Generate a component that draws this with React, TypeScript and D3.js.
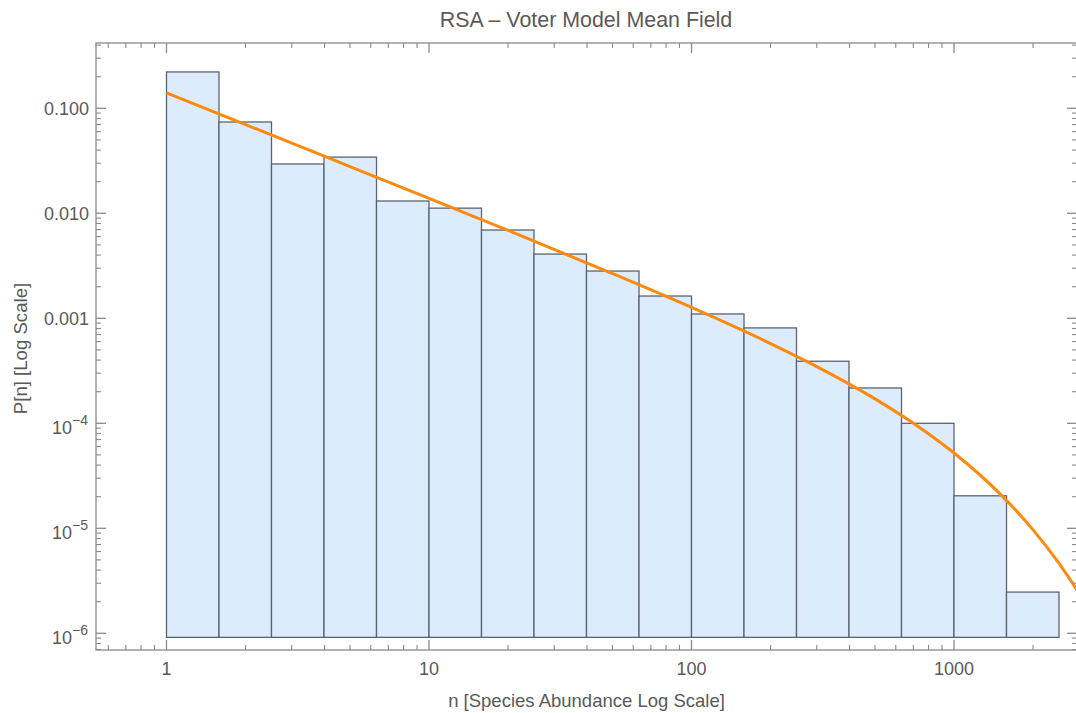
import React from "react";
import * as d3 from "d3";

// Histogram bins (log-spaced edges) and bar heights
const binEdges: number[] = [1, 1.585, 2.512, 3.981, 6.31, 10, 15.85, 25.12, 39.81, 63.1, 100, 158.5, 251.2, 398.1, 631, 1000, 1585, 2512];
const barValues: number[] = [0.222, 0.0741, 0.0295, 0.0343, 0.0131, 0.0112, 0.00693, 0.00409, 0.00282, 0.00163, 0.0011, 0.00081, 0.00039, 0.000217, 0.0001, 2.04e-5, 2.47e-6];
const barBase = 9.15e-7;

// Mean-field curve samples
const curveN: number[] = [1, 2, 3, 5, 10, 20, 50, 100, 200, 300, 500, 700, 1000, 1500, 2000, 2500, 3000];
const curveP: number[] = [0.14, 0.07, 0.04657, 0.02789, 0.01388, 0.006868, 0.002667, 0.001269, 0.000575, 0.000347, 0.0001709, 0.0001001, 5.21e-5, 2.116e-5, 9.67e-6, 4.72e-6, 2.4e-6];

const xMajorTicks: number[] = [1, 10, 100, 1000];
const xTickLabels: string[] = ["1", "10", "100", "1000"];
const yMajorTicks: number[] = [0.1, 0.01, 0.001, 1e-4, 1e-5, 1e-6];
const yTickLabels: string[] = ["0.100", "0.010", "0.001", "10^-4", "10^-5", "10^-6"];

const title = "RSA \u2013 Voter Model Mean Field";
const xLabel = "n [Species Abundance Log Scale]";
const yLabel = "P[n] [Log Scale]";

const W = 1076;
const H = 713;
const L = 96, R = 1077, T = 43, B = 650;

const FONT = "'Liberation Sans', Arial, Helvetica, sans-serif";
const TEXT = "#5a5a5a";
const FRAME = "#8a8a8a";

export default function App() {
  const x = d3.scaleLog().domain([Math.pow(10, -0.26857), Math.pow(10, 3.46857)]).range([L, R]);
  const y = d3.scaleLog().domain([Math.pow(10, -6.159), Math.pow(10, -0.378)]).range([B, T]);

  const [xd0, xd1] = x.domain();
  const [yd0, yd1] = y.domain();
  const xMinor: number[] = [];
  for (let d = -1; d <= 3; d++) for (let m = 2; m <= 9; m++) {
    const v = m * Math.pow(10, d);
    if (v >= xd0 && v <= xd1) xMinor.push(v);
  }
  const yMinor: number[] = [];
  for (let d = -7; d <= -1; d++) for (let m = 2; m <= 9; m++) {
    const v = m * Math.pow(10, d);
    if (v >= yd0 && v <= yd1) yMinor.push(v);
  }

  const line = d3.line<number>()
    .x((_, i) => x(curveN[i]))
    .y((d) => y(d))
    .curve(d3.curveMonotoneX);

  const MAJ = 10, MIN = 5;

  return (
    <svg width={W} height={H} style={{ position: "absolute", left: 0, top: 0, display: "block", background: "#fff" }}>
      <defs>
        <clipPath id="plotclip">
          <rect x={L} y={T} width={R - L} height={B - T} />
        </clipPath>
      </defs>
      <text x={586} y={27} textAnchor="middle" fontFamily={FONT} fontSize={21.4} fill={TEXT}>{title}</text>

      {/* bars */}
      <g clipPath="url(#plotclip)">
        {barValues.map((v, i) => (
          <rect key={i}
            x={x(binEdges[i])}
            y={y(v)}
            width={x(binEdges[i + 1] ?? binEdges[i] * 1.585) - x(binEdges[i])}
            height={y(barBase) - y(v)}
            fill="#ddecfc" stroke="#5b646d" strokeWidth={1.3} />
        ))}
        <path d={line(curveP) || ""} fill="none" stroke="#ff8a0d" strokeWidth={3} strokeLinejoin="round" />
      </g>

      {/* frame */}
      <rect x={L} y={T} width={R - L} height={B - T} fill="none" stroke={FRAME} strokeWidth={1.3} />

      {/* x ticks */}
      {xMajorTicks.map((t) => (
        <g key={"xm" + t}>
          <line x1={x(t)} x2={x(t)} y1={B} y2={B - MAJ} stroke={FRAME} strokeWidth={1.3} />
          <line x1={x(t)} x2={x(t)} y1={T} y2={T + MAJ} stroke={FRAME} strokeWidth={1.3} />
        </g>
      ))}
      {xMinor.map((t) => (
        <g key={"xn" + t}>
          <line x1={x(t)} x2={x(t)} y1={B} y2={B - MIN} stroke={FRAME} strokeWidth={1.1} />
          <line x1={x(t)} x2={x(t)} y1={T} y2={T + MIN} stroke={FRAME} strokeWidth={1.1} />
        </g>
      ))}
      {xMajorTicks.map((t, i) => (
        <text key={"xl" + t} x={x(t)} y={675} textAnchor="middle" fontFamily={FONT} fontSize={18} fill={TEXT}>{xTickLabels[i]}</text>
      ))}

      {/* y ticks */}
      {yMajorTicks.map((t) => (
        <g key={"ym" + t}>
          <line x1={L} x2={L + MAJ} y1={y(t)} y2={y(t)} stroke={FRAME} strokeWidth={1.3} />
          <line x1={R} x2={R - MAJ} y1={y(t)} y2={y(t)} stroke={FRAME} strokeWidth={1.3} />
        </g>
      ))}
      {yMinor.map((t) => (
        <g key={"yn" + t}>
          <line x1={L} x2={L + MIN} y1={y(t)} y2={y(t)} stroke={FRAME} strokeWidth={1.1} />
          <line x1={R} x2={R - MIN} y1={y(t)} y2={y(t)} stroke={FRAME} strokeWidth={1.1} />
        </g>
      ))}
      {yMajorTicks.map((t, i) => {
        const lab = yTickLabels[i];
        if (lab.startsWith("10^")) {
          const exp = lab.slice(3).replace("-", "\u2212");
          return (
            <text key={"yl" + t} x={88} y={y(t) + 11} textAnchor="end" fontFamily={FONT} fontSize={18} fill={TEXT}>
              10<tspan dy={-9} fontSize={14}>{exp}</tspan>
            </text>
          );
        }
        return (
          <text key={"yl" + t} x={89} y={y(t) + 6.5} textAnchor="end" fontFamily={FONT} fontSize={18} fill={TEXT}>{lab}</text>
        );
      })}

      <text x={586.5} y={707} textAnchor="middle" fontFamily={FONT} fontSize={18.5} fill={TEXT}>{xLabel}</text>
      <text transform="translate(27,348.5) rotate(-90)" textAnchor="middle" fontFamily={FONT} fontSize={18.6} fill={TEXT}>{yLabel}</text>
    </svg>
  );
}
